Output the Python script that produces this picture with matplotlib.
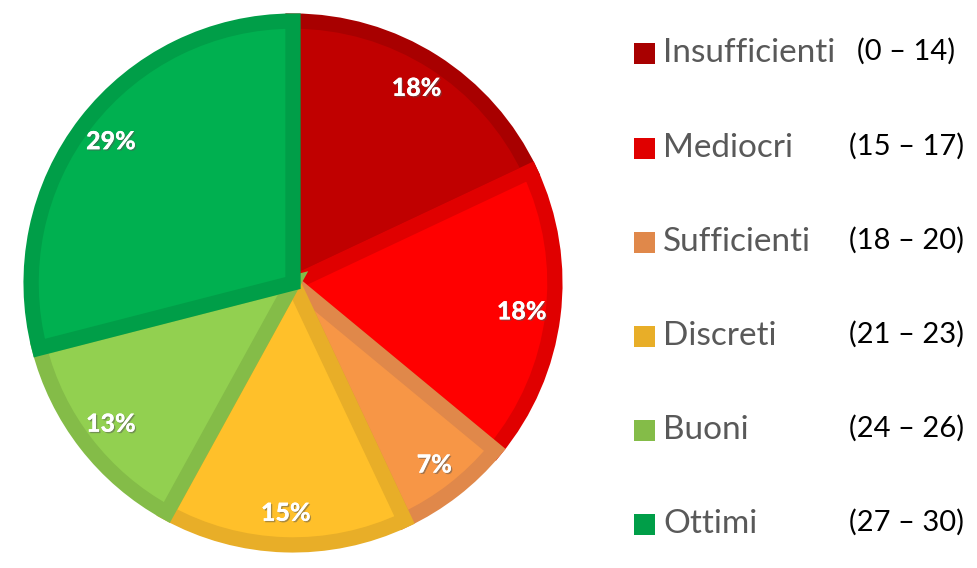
import matplotlib.pyplot as plt
import matplotlib.patheffects as pe
from matplotlib.patches import Rectangle

plt.rcParams['font.family'] = ['Lato', 'DejaVu Sans']

categorie = ['Insufficienti', 'Mediocri', 'Sufficienti', 'Discreti', 'Buoni', 'Ottimi']
intervalli = ['(0 – 14)', '(15 – 17)', '(18 – 20)', '(21 – 23)', '(24 – 26)', '(27 – 30)']
percentuali = [18, 18, 7, 15, 13, 29]
colori = ['#C00000', '#FF0000', '#F79646', '#FFC02A', '#92D050', '#00B050']
bordi = ['#A80000', '#E00000', '#E0884A', '#E8AE28', '#84BC48', '#009E48']

W, H = 978, 568
fig = plt.figure(figsize=(W / 100, H / 100), dpi=100)

# pie: centre (293, 283) px, radius ~270 px
ax = fig.add_axes([23 / W, 15 / H, 540 / W, 540 / H])
wedges, texts, autotexts = ax.pie(
    percentuali, colors=colori, startangle=90, counterclock=False,
    autopct='%1.0f%%', pctdistance=0.88, radius=0.97,
    textprops=dict(color='white', fontsize=18, fontweight='black'))
for w, b in zip(wedges, bordi):
    w.set_edgecolor(b)
    w.set_linewidth(11)
    w.set_clip_path(w)  # inner stroke only
for t in autotexts:
    t.set_path_effects([pe.withSimplePatchShadow(offset=(1, -1), shadow_rgbFace='#555555', alpha=0.5),
                        pe.Normal()])
ax.set_xlim(-1, 1)
ax.set_ylim(-1, 1)
ax.set_aspect('equal')

# legenda a destra
y_righe = [53, 148, 242, 336, 430, 524]
for i, (nome, rng) in enumerate(zip(categorie, intervalli)):
    y = 1 - y_righe[i] / H
    fig.add_artist(Rectangle((634 / W, y - 10.5 / H), 21 / W, 21 / H,
                             transform=fig.transFigure, facecolor=bordi[i], edgecolor='none'))
    fig.text(663 / W, y, nome, fontsize=24, color='#595959', va='center', ha='left')
    x_r = 857 if i == 0 else 849
    fig.text(x_r / W, y + 2 / H, rng, fontsize=21, color='black', va='center', ha='left')

fig.savefig('out.png', dpi=100)
